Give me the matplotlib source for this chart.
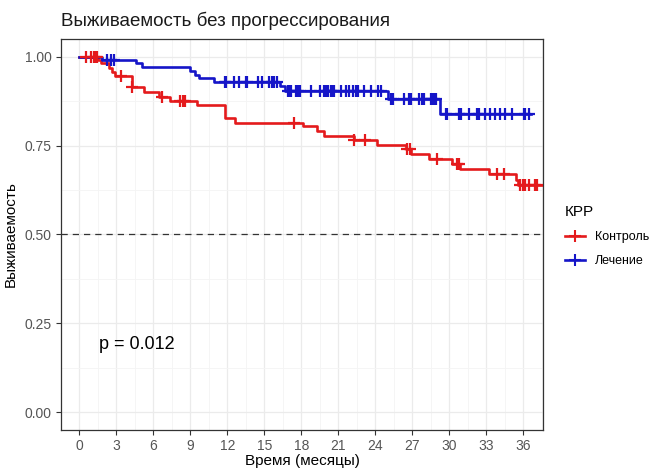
import numpy as np
import matplotlib
matplotlib.use("Agg")
import matplotlib.pyplot as plt
from matplotlib.lines import Line2D

plt.rcParams['font.family'] = ['Liberation Sans', 'DejaVu Sans']

# ---- data ----
title = "Выживаемость без прогрессирования"
xlabel = "Время (месяцы)"
ylabel = "Выживаемость"
legend_title = "КРР"
groups = ["Контроль", "Лечение"]
p_text = "p = 0.012"

ctrl_times = [0, 1.53, 1.72, 2.4, 2.66, 2.9, 4.28, 5.22, 6.43, 7.37, 9.52, 11.8, 12.6,
              18.1, 19.3, 19.8, 22.3, 24.1, 26.5, 26.9, 28.35, 30.2, 30.9, 33.2, 35.4, 35.6]
ctrl_surv = [1.0, 0.991, 0.982, 0.969, 0.957, 0.945, 0.914, 0.900, 0.888, 0.875, 0.865, 0.828, 0.815,
             0.804, 0.792, 0.778, 0.767, 0.751, 0.740, 0.726, 0.712, 0.698, 0.684, 0.669, 0.653, 0.638]
ctrl_end = 38.0
ctrl_cens = [0.5, 0.9, 1.2, 1.3, 1.45, 3.33, 4.3, 6.7, 8.18, 8.39, 8.58, 17.4, 22.3, 23.2,
             26.6, 26.8, 29.0, 30.6, 30.8, 33.9, 34.4, 35.75, 35.97, 36.16, 36.43, 36.97, 37.1]

trt_times = [0, 1.8, 4.6, 5.1, 9.0, 9.4, 9.7, 10.9, 16.3, 16.65, 25.0, 29.25]
trt_surv = [1.0, 0.992, 0.982, 0.971, 0.961, 0.950, 0.940, 0.929, 0.917, 0.905, 0.881, 0.839]
trt_end = 36.6
trt_cens = [2.26, 2.53, 2.8, 11.8, 11.9, 12.5, 12.9, 13.5, 13.6, 14.5, 14.8, 15.4, 15.6, 15.8, 16.0,
            16.92, 17.06, 17.19, 17.59, 17.73, 17.86, 18.80, 19.47, 19.87, 20.01, 20.15, 20.42,
            20.55, 20.68, 21.23, 21.63, 21.90, 22.17, 22.44, 22.58, 23.11, 23.65, 24.19, 24.48,
            25.26, 25.40, 26.34, 26.74, 26.88, 27.55, 27.82, 27.95, 28.49, 28.63, 28.76, 28.89,
            29.70, 29.84, 30.77, 30.91, 31.58, 32.26, 32.39, 32.93, 33.33, 33.74, 34.14, 34.54,
            35.09, 36.02, 36.16, 36.5]

x_ticks = list(range(0, 37, 3))
y_ticks = [0.0, 0.25, 0.5, 0.75, 1.0]
y_ticklabels = ["0.00", "0.25", "0.50", "0.75", "1.00"]

colors = ["#E41A1C", "#1515C8"]

fig = plt.figure(figsize=(6.51, 4.68), dpi=100)
ax = fig.add_axes([61/651, 1-430/468, (543-61)/651, (430-39)/468])

ax.set_xlim(-1.45, 37.6)
ax.set_ylim(-0.05, 1.05)

# grid
ax.set_xticks(x_ticks)
ax.set_xticks([t + 1.5 for t in x_ticks[:-1]] + [-1.5, 37.5], minor=True)
ax.set_yticks(y_ticks)
ax.set_yticklabels(y_ticklabels)
ax.set_yticks([0.125, 0.375, 0.625, 0.875], minor=True)
ax.grid(which='major', color='#EBEBEB', lw=0.9)
ax.grid(which='minor', color='#F4F4F4', lw=0.6)
ax.set_axisbelow(True)
ax.tick_params(which='minor', length=0)
ax.tick_params(which='major', length=3.5, width=0.8, color='#333333',
               labelcolor='#555555', labelsize=10, pad=3)
for s in ax.spines.values():
    s.set_color('#333333')
    s.set_linewidth(0.9)

def draw(times, surv, end, cens, color):
    t = np.array(times + [end])
    s = np.array(surv + [surv[-1]])
    ax.step(t, s, where='post', color=color, lw=1.9, zorder=3, clip_on=True)
    idx = np.searchsorted(np.array(times), np.array(cens), side='right') - 1
    cs = np.array(surv)[idx]
    ax.plot(cens, cs, ls='none', marker='+', ms=8, mew=1.6, color=color, zorder=4, clip_on=True)

draw(ctrl_times, ctrl_surv, ctrl_end, ctrl_cens, colors[0])
draw(trt_times, trt_surv, trt_end, trt_cens, colors[1])

ax.axhline(0.5, color='#333333', lw=0.9, ls=(0, (5, 4)), zorder=2)

ax.text(1.6, 0.19, p_text, fontsize=13, ha='left', va='center', color='black')

ax.set_xlabel(xlabel, fontsize=11, color='black', labelpad=1)
ax.set_ylabel(ylabel, fontsize=11, color='black', labelpad=5)
fig.text(61/651, 1-21/468, title, fontsize=13.5, ha='left', va='center', color='#1A1A1A')

handles = [Line2D([0], [0], color=c, lw=1.9, marker='+', ms=8, mew=1.5) for c in colors]
leg = fig.legend(handles, groups, title=legend_title, loc='center left',
                 bbox_to_anchor=(554/651, 1-236/468), frameon=False, fontsize=9,
                 title_fontsize=11, handlelength=1.6, labelspacing=1.0, handletextpad=0.8)
leg._legend_box.align = "left"

fig.savefig("out.png", dpi=100)
